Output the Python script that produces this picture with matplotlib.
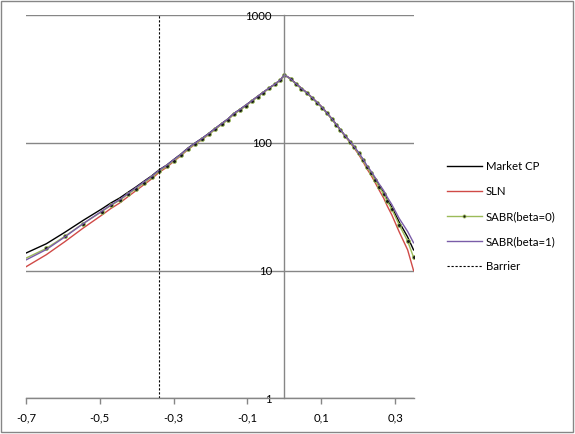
import numpy as np
import matplotlib
matplotlib.use('Agg')
import matplotlib.pyplot as plt
from matplotlib.ticker import FixedLocator, FuncFormatter, NullLocator
from matplotlib.patches import Rectangle

plt.rcParams['font.family'] = ['Lato', 'DejaVu Sans']
plt.rcParams['font.size'] = 8.2

# log-moneyness grid (x) and option prices
x = [-0.70, -0.645, -0.595, -0.545, -0.495, -0.47, -0.446, -0.424, -0.402, -0.38,
     -0.359, -0.34, -0.319, -0.30, -0.28, -0.262, -0.242, -0.223, -0.205, -0.187,
     -0.169, -0.152, -0.137, -0.121, -0.104, -0.088, -0.072, -0.057, -0.041, -0.025,
     -0.011, 0.0, 0.017, 0.032, 0.046, 0.061, 0.074, 0.088, 0.102, 0.115,
     0.128, 0.140, 0.152, 0.164, 0.177, 0.189, 0.201, 0.213, 0.223, 0.235,
     0.246, 0.257, 0.269, 0.279, 0.291, 0.311, 0.334, 0.35]

market_cp = [13.7, 16.2, 19.9, 24.7, 30.3, 33.8, 37.0, 40.9, 45.1, 50.1,
             55.2, 61.2, 66.8, 73.8, 81.6, 90.5, 99.6, 108.3, 118.2, 129.7,
             142.0, 154.3, 169.5, 181.9, 197.5, 213.5, 231.5, 248.7, 268.8, 288.4,
             311.0, 340.0, 316.6, 289.4, 266.9, 246.1, 226.9, 207.8, 189.8, 171.6,
             154.9, 139.8, 126.3, 113.8, 102.9, 92.7, 83.3, 73.7, 65.7, 58.6,
             52.0, 46.1, 40.8, 35.8, 31.4, 24.0, 18.3, 14.5]

sln = [10.7, 13.3, 16.8, 21.5, 27.1, 30.6, 33.8, 37.8, 42.2, 47.1,
       52.3, 58.5, 64.2, 71.4, 79.3, 88.1, 97.3, 106.0, 115.9, 128.0,
       140.2, 152.6, 167.6, 180.2, 195.6, 211.9, 230.1, 247.3, 267.7, 287.7,
       310.8, 340.0, 316.6, 289.4, 266.9, 246.1, 226.9, 207.8, 189.8, 171.6,
       154.6, 139.5, 125.8, 112.8, 101.4, 91.0, 81.2, 71.3, 63.0, 55.6,
       48.7, 42.5, 36.9, 31.9, 27.3, 20.1, 14.5, 10.0]

sabr_b0 = [12.5, 14.9, 18.5, 23.3, 28.9, 32.3, 35.5, 39.5, 43.7, 48.7,
           53.7, 59.8, 65.4, 72.4, 80.2, 88.9, 97.8, 106.4, 116.1, 127.7,
           139.8, 152.1, 167.1, 179.6, 195.0, 211.2, 229.4, 246.5, 266.9, 286.8,
           309.9, 339.0, 313.8, 286.8, 264.5, 243.9, 224.9, 205.9, 188.1, 170.1,
           153.5, 138.5, 125.2, 113.4, 102.3, 92.2, 82.7, 73.0, 65.0, 57.8,
           51.1, 45.1, 39.7, 34.7, 30.2, 22.8, 17.0, 12.7]

sabr_b1 = [12.1, 14.6, 18.3, 23.3, 29.1, 32.6, 35.9, 40.1, 44.5, 49.6,
           54.7, 60.9, 66.6, 73.6, 81.4, 90.3, 99.4, 108.2, 118.0, 129.6,
           141.9, 154.2, 169.4, 181.8, 197.4, 213.4, 231.4, 248.6, 268.7, 288.3,
           310.9, 340.0, 316.6, 289.4, 266.9, 246.1, 226.9, 207.8, 189.8, 171.6,
           155.0, 140.0, 126.5, 114.2, 103.2, 93.4, 84.0, 74.6, 66.8, 59.8,
           53.4, 47.5, 42.3, 37.4, 32.9, 25.6, 20.2, 16.5]

barrier_x = [-0.34, -0.34]
barrier_y = [1, 1000]

x_ticks = [-0.7, -0.5, -0.3, -0.1, 0.1, 0.3]
y_ticks = [1, 10, 100, 1000]

grey = '#868686'

fig = plt.figure(figsize=(5.75, 4.34), dpi=100)
ax = fig.add_axes([0.0452, 0.0823, 0.6753, 0.8831])

ax.plot(x, market_cp, color='black', lw=1.0, label='Market CP')
ax.plot(x, sln, color='#D04A47', lw=1.0, label='SLN')
ax.plot(x, sabr_b0, color='#9BBB59', lw=1.0, marker='o', ms=2.8,
        mfc='#1a1a1a', mec='#9BBB59', mew=0.6, markevery=slice(1, None),
        label='SABR(beta=0)')
ax.plot(x, sabr_b1, color='#7A5CA8', lw=1.0, label='SABR(beta=1)')
ax.plot(barrier_x, barrier_y, color='black', lw=0.8, dashes=(2, 1.6),
        label='Barrier')

ax.set_yscale('log')
ax.set_xlim(-0.7, 0.352)
ax.set_ylim(1, 1000)

ax.yaxis.set_major_locator(FixedLocator(y_ticks))
ax.yaxis.set_minor_locator(NullLocator())
ax.yaxis.set_major_formatter(FuncFormatter(lambda v, p: '%d' % v))
ax.xaxis.set_major_locator(FixedLocator(x_ticks))
ax.xaxis.set_major_formatter(FuncFormatter(lambda v, p: ('%.1f' % v).replace('.', ',')))

# y axis crosses at x = 0 like the excel chart
ax.spines['left'].set_position(('data', 0))
ax.spines['top'].set_visible(False)
ax.spines['right'].set_visible(False)
for s in ['left', 'bottom']:
    ax.spines[s].set_color(grey)
    ax.spines[s].set_linewidth(1)

ax.yaxis.grid(True, color=grey, lw=1)
ax.set_axisbelow(True)
ax.tick_params(axis='y', length=0, pad=9)
ax.tick_params(axis='x', direction='out', length=4, color=grey, width=1, pad=6)

ax.legend(loc='upper left', bbox_to_anchor=(0.778, 0.628), bbox_transform=fig.transFigure,
          frameon=False, borderpad=0, borderaxespad=0, handlelength=3.0,
          handletextpad=0.35, labelspacing=1.22, numpoints=1, markerscale=0.8)

fig.add_artist(Rectangle((0.0023, 0.004), 0.9942, 0.993, transform=fig.transFigure,
                         fill=False, ec=grey, lw=1))

fig.savefig('out.png', dpi=100)
